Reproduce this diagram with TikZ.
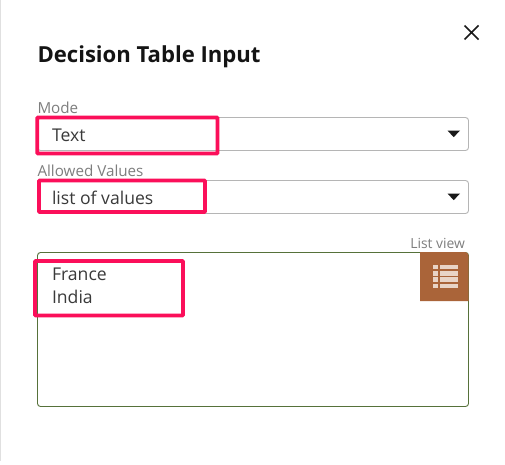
\documentclass[tikz,border=0pt]{standalone}
\usepackage{fontspec}
\setmainfont{Open Sans}
\definecolor{hilite}{HTML}{FB0F5A}
\definecolor{fieldline}{HTML}{B5B5B5}
\definecolor{listline}{HTML}{56713A}
\definecolor{iconbg}{HTML}{AA6439}
\definecolor{iconfg}{HTML}{E9D4C6}
\definecolor{labelgrey}{HTML}{7E7E7E}
\definecolor{valuegrey}{HTML}{3A3A3A}
\tikzset{x=1pt,y=-1pt,
    every node/.style={inner sep=0pt,outer sep=0pt},
    fieldbox/.style={draw=fieldline,line width=.9pt,rounded corners=3pt},
    listbox/.style={draw=listline,line width=.9pt,rounded corners=3pt},
    hibox/.style={draw=hilite,line width=3.8pt,rounded corners=.8pt},
    smalllabel/.style={text=labelgrey,font=\fontsize{15.2}{15.2}\selectfont,anchor=base west},
    valuetext/.style={text=valuegrey,font=\fontsize{17.6}{17.6}\selectfont,anchor=base west},
    ddarrow/.style={fill=black!90,draw=none},
    }

\begin{document}
\begin{tikzpicture}
	\useasboundingbox (0,0) rectangle (505,464);
	\fill[white] (0,0) rectangle (505,464);
	\fill[black!12] (0,0) rectangle (1,461);
	% title and close
	\node[anchor=base west,font=\fontsize{22.1}{22.1}\selectfont\bfseries,text=black!92] (title) at (37.5,62.5) {Decision Table Input};
	\coordinate (xa) at (464.5,25.5);
	\coordinate (xb) at (478.5,39.5);
	\coordinate (xc) at (478.5,25.5);
	\coordinate (xd) at (464.5,39.5);
	\draw[line width=1.5pt,black!90] (xa) -- (xb) (xc) -- (xd);
	% mode field
	\node[smalllabel] (modelabel) at (37.5,113.8) {Mode};
	\draw[fieldbox] (37.5,117.5) rectangle (468.5,150.5);
	\node[valuetext] (modeval) at (52,141.2) {Text};
	\fill[ddarrow] (447.5,130.5) -- (460,130.5) -- (453.7,137.2) -- cycle;
	% allowed values field
	\node[smalllabel] (allowlabel) at (37.5,176.8) {Allowed Values};
	\draw[fieldbox] (37.5,180.5) rectangle (468.5,213.5);
	\node[valuetext] (allowval) at (52,204.2) {list of values};
	\fill[ddarrow] (447.5,193.5) -- (460,193.5) -- (453.7,200.2) -- cycle;
	% list box
	\node[smalllabel,anchor=base east,font=\fontsize{13.9}{13.9}\selectfont] (listlabel) at (465,248) {List view};
	\draw[listbox] (37.5,252.5) rectangle (468.5,406.5);
	\node[valuetext] (france) at (52,280.2) {France};
	\node[valuetext] (india) at (52,303.2) {India};
	% list icon
	\fill[iconbg] (420,252) -- (465,252) arc[start angle=-90,end angle=0,radius=3.5] -- (468.5,301) -- (420,301) -- cycle;
	\foreach \ypos in {265,271.2,277.4,283.6}{
		\fill[iconfg] (433,\ypos) rectangle (437.5,\ypos+4.4);
		\fill[iconfg] (440,\ypos) rectangle (458,\ypos+4.4);
	}
	% highlights
	\draw[hibox] (37.3,117.5) rectangle (217.5,153.5);
	\draw[hibox] (39,180.5) rectangle (205,212);
	\draw[hibox] (35,261) rectangle (183,315.5);
\end{tikzpicture}
\end{document}
